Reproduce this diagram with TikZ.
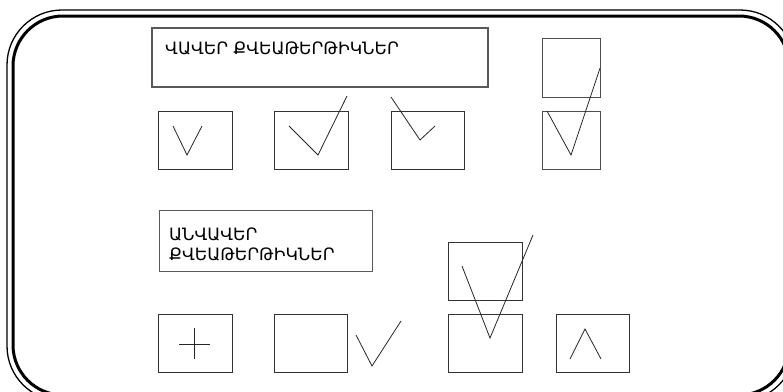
\documentclass[tikz,border=0pt]{standalone}
\usepackage{fontspec}
\newfontfamily\armfont{DejaVu Sans}
\begin{document}
\begin{tikzpicture}[x=1pt,y=-1pt,
  ballot/.style={draw=black!80,line width=0.9pt,minimum width=74pt,minimum height=58pt,inner sep=0pt},
  heading/.style={draw=black!65,line width=1.3pt,inner sep=0pt},
  caption/.style={font=\armfont\fontsize{17}{20}\selectfont,align=left,inner sep=0pt},
  tickline/.style={black!85,line width=0.8pt}]
\useasboundingbox (0,0) rectangle (783,391);
% frame
\draw[line width=1.3pt,rounded corners=55pt] (7,10) rectangle (795,401);
\draw[line width=3pt,rounded corners=50pt] (13,16) rectangle (789,395);
% valid
\node[heading,minimum width=336pt,minimum height=59pt] (valid) at (320,57.5) {};
\node[caption,anchor=base west] (validtext) at (165,54) {ՎԱՎԵՐ ՔՎԵԱԹԵՐԹԻԿՆԵՐ};
\node[ballot] (v1) at (195,140) {};
\node[ballot] (v2) at (311,140) {};
\node[ballot,minimum width=73pt] (v3) at (427.5,140) {};
\node[ballot,minimum width=58pt,minimum height=59pt,draw=black!70] (v4top) at (571,67.5) {};
\node[ballot,minimum width=58pt,draw=black!70] (v4) at (571,140) {};
\draw[tickline] (173,126) -- (187,155) -- (202,126);
\draw[tickline] (289,126) -- (318,155) -- (347,96);
\draw[tickline] (391,97) -- (420,140) -- (435,126);
\draw[tickline] (547,111) -- (571,155) -- (600,68);
% invalid
\node[heading,minimum width=213pt,minimum height=61pt,line width=1pt] (invalid) at (265.5,240.5) {};
\node[caption,anchor=base west] (invalidtext) at (169,260) {ԱՆՎԱՎԵՐ\\ՔՎԵԱԹԵՐԹԻԿՆԵՐ};
\node[ballot] (n1) at (195,343.5) {};
\node[ballot,minimum width=73pt] (n2) at (310.5,343.5) {};
\node[ballot] (n3top) at (485,271.5) {};
\node[ballot] (n3) at (485,343.5) {};
\node[ballot,minimum width=73pt] (n4) at (592.5,343.5) {};
\draw[tickline] (179,344) -- (210,344) (194,328) -- (194,359);
\draw[tickline] (356,335) -- (372,366) -- (401,321);
\draw[tickline] (462,266) -- (490,338) -- (533,235);
\draw[tickline] (570,359) -- (585,329) -- (601,359);
\end{tikzpicture}
\end{document}
